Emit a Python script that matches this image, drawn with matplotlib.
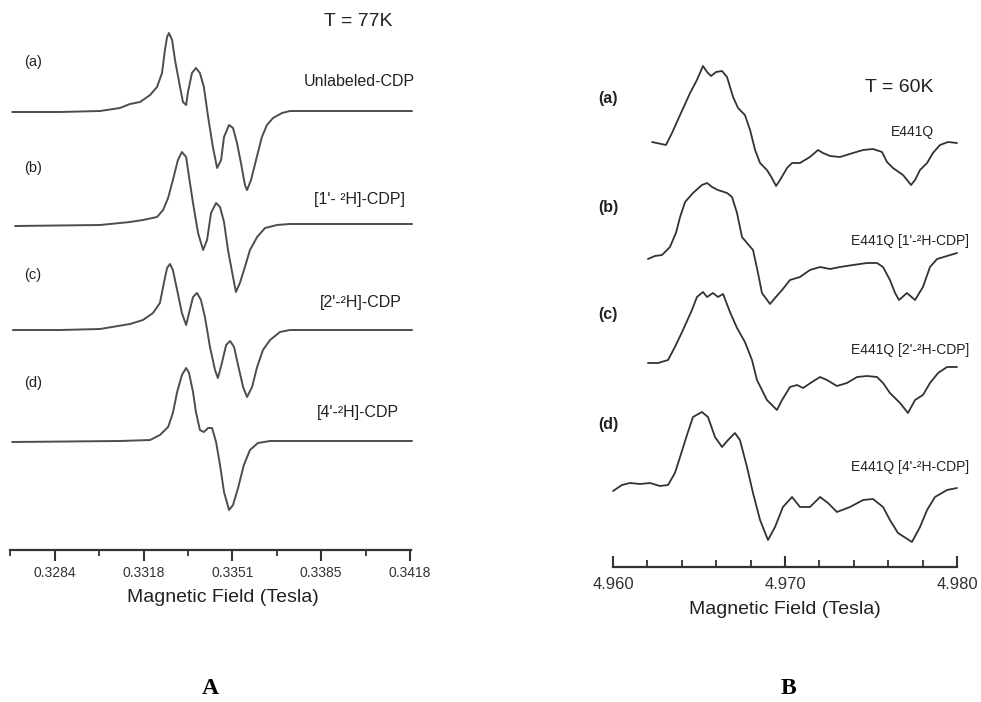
import matplotlib
matplotlib.use("Agg")
import matplotlib.pyplot as plt
import numpy as np

plt.rcParams['font.family'] = ['Liberation Sans', 'DejaVu Sans']

# ---------------- Panel A data (T = 77K) ----------------
a_field = [0.32678, 0.32859, 0.33010, 0.33085, 0.33123, 0.33161, 0.33199, 0.33225, 0.33244, 0.33255,
           0.33263, 0.33270, 0.33282, 0.33293, 0.33312, 0.33323, 0.33335, 0.33342, 0.33357, 0.33372,
           0.33387, 0.33402, 0.33418, 0.33436, 0.33452, 0.33467, 0.33478, 0.33497, 0.33512, 0.33527,
           0.33542, 0.33557, 0.33565, 0.33580, 0.33599, 0.33621, 0.33640, 0.33663, 0.33697, 0.33727,
           0.33840, 0.34188]
a_signal = [0, 0, 1, 4, 8, 10, 17, 25, 39, 62, 75, 79, 72, 52, 25, 10, 7, 20, 39, 44,
            39, 25, -5, -35, -56, -48, -25, -13, -16, -31, -51, -73, -78, -68, -48, -25, -13, -6, -1, 1,
            1, 1]

b_field = [0.32689, 0.33010, 0.33123, 0.33172, 0.33225, 0.33248, 0.33267, 0.33285, 0.33304, 0.33319,
           0.33335, 0.33346, 0.33361, 0.33380, 0.33399, 0.33414, 0.33429, 0.33448, 0.33463, 0.33478,
           0.33493, 0.33512, 0.33523, 0.33538, 0.33557, 0.33576, 0.33603, 0.33633, 0.33678, 0.33727,
           0.34188]
b_signal = [-1, 0, 3, 5, 8, 15, 27, 45, 65, 73, 68, 48, 22, -8, -25, -15, 12, 22, 18, 3,
            -25, -52, -67, -58, -42, -25, -12, -3, 0, 1, 1]

c_field = [0.32681, 0.32859, 0.33010, 0.33123, 0.33172, 0.33210, 0.33236, 0.33251, 0.33263, 0.33274,
           0.33285, 0.33301, 0.33319, 0.33335, 0.33346, 0.33361, 0.33376, 0.33391, 0.33406, 0.33425,
           0.33444, 0.33455, 0.33470, 0.33486, 0.33501, 0.33516, 0.33531, 0.33550, 0.33565, 0.33584,
           0.33603, 0.33625, 0.33652, 0.33689, 0.33727, 0.34188]
c_signal = [0, 0, 1, 6, 10, 17, 27, 47, 62, 66, 60, 40, 17, 5, 17, 33, 37, 30, 13, -17,
            -40, -48, -33, -15, -11, -17, -35, -57, -67, -57, -37, -20, -10, -2, 0, 0]

d_field = [0.32678, 0.33085, 0.33199, 0.33236, 0.33267, 0.33285, 0.33301, 0.33319, 0.33335, 0.33346,
           0.33361, 0.33372, 0.33387, 0.33402, 0.33418, 0.33433, 0.33448, 0.33463, 0.33478, 0.33497,
           0.33512, 0.33531, 0.33553, 0.33576, 0.33606, 0.33652, 0.34188]
d_signal = [0, 1, 2, 7, 15, 29, 50, 67, 74, 69, 50, 30, 12, 10, 14, 14, 0, -23, -50, -68,
            -63, -46, -23, -8, -1, 1, 1]

A_tick_values = [0.3284, 0.33175, 0.3351, 0.33845, 0.3418]
A_tick_labels = ["0.3284", "0.3318", "0.3351", "0.3385", "0.3418"]
A_minor_ticks = [0.32670, 0.330075, 0.333425, 0.336775, 0.340125]
A_names = ["Unlabeled-CDP", "[1'- \u00b2H]-CDP]", "[2'-\u00b2H]-CDP", "[4'-\u00b2H]-CDP"]

# ---------------- Panel B data (T = 60K) ----------------
Ba_field = [4.96227, 4.96308, 4.96343, 4.96390, 4.96448, 4.96488, 4.96523, 4.96547, 4.96570, 4.96599,
            4.96634, 4.96663, 4.96698, 4.96727, 4.96767, 4.96797, 4.96826, 4.96855, 4.96895, 4.96924,
            4.96948, 4.96971, 4.97012, 4.97041, 4.97087, 4.97145, 4.97192, 4.97221, 4.97262, 4.97320,
            4.97395, 4.97454, 4.97512, 4.97564, 4.97593, 4.97628, 4.97686, 4.97733, 4.97756, 4.97785,
            4.97826, 4.97860, 4.97901, 4.97948, 4.98000]
Ba_signal = [0, -3, 9, 27, 49, 62, 76, 70, 66, 70, 71, 65, 45, 34, 27, 12, -8, -21, -28, -36,
             -44, -38, -26, -21, -21, -15, -8, -11, -14, -15, -11, -8, -7, -10, -20, -26, -33, -43, -38, -28,
             -21, -11, -3, 0, -1]

Bb_field = [4.96203, 4.96244, 4.96285, 4.96331, 4.96366, 4.96390, 4.96419, 4.96465, 4.96517, 4.96547,
            4.96576, 4.96610, 4.96663, 4.96692, 4.96721, 4.96750, 4.96779, 4.96814, 4.96843, 4.96866,
            4.96913, 4.96942, 4.96983, 4.97029, 4.97087, 4.97145, 4.97204, 4.97262, 4.97320, 4.97395,
            4.97477, 4.97535, 4.97570, 4.97610, 4.97640, 4.97663, 4.97709, 4.97756, 4.97802, 4.97843,
            4.97884, 4.97942, 4.98000]
Bb_signal = [0, 3, 4, 12, 26, 42, 57, 66, 74, 76, 72, 69, 66, 62, 46, 22, 16, 9, -14, -34,
             -45, -39, -31, -21, -18, -11, -8, -10, -8, -6, -4, -4, -8, -21, -34, -41, -34, -41, -28, -8,
             0, 3, 6]

Bc_field = [4.96203, 4.96262, 4.96320, 4.96360, 4.96407, 4.96459, 4.96488, 4.96523, 4.96547, 4.96581,
            4.96610, 4.96640, 4.96680, 4.96721, 4.96767, 4.96808, 4.96837, 4.96895, 4.96953, 4.96983,
            4.97029, 4.97070, 4.97105, 4.97157, 4.97204, 4.97244, 4.97302, 4.97360, 4.97419, 4.97477,
            4.97535, 4.97570, 4.97610, 4.97669, 4.97715, 4.97756, 4.97802, 4.97843, 4.97890, 4.97942,
            4.98000]
Bc_signal = [0, 0, 3, 16, 33, 53, 66, 71, 66, 70, 66, 69, 51, 35, 21, 3, -17, -37, -47, -37,
             -24, -22, -25, -19, -14, -17, -23, -20, -14, -13, -14, -20, -30, -40, -50, -37, -32, -20, -10, -4,
             -4]

Bd_field = [4.96000, 4.96052, 4.96099, 4.96157, 4.96215, 4.96273, 4.96320, 4.96360, 4.96390, 4.96430,
            4.96465, 4.96517, 4.96552, 4.96593, 4.96634, 4.96669, 4.96709, 4.96738, 4.96779, 4.96814,
            4.96855, 4.96901, 4.96942, 4.96988, 4.97041, 4.97087, 4.97145, 4.97204, 4.97250, 4.97302,
            4.97378, 4.97454, 4.97512, 4.97570, 4.97610, 4.97657, 4.97738, 4.97785, 4.97826, 4.97872,
            4.97942, 4.98000]
Bd_signal = [-7, -1, 1, 0, 1, -2, -1, 11, 27, 49, 67, 72, 67, 47, 37, 44, 51, 44, 17, -9,
             -36, -56, -43, -23, -13, -23, -23, -13, -19, -28, -23, -16, -15, -23, -36, -49, -58, -43, -26, -13,
             -6, -4]

B_tick_values = [4.960, 4.970, 4.980]
B_tick_labels = ["4.960", "4.970", "4.980"]
B_minor_ticks = [4.962, 4.964, 4.966, 4.968, 4.972, 4.974, 4.976, 4.978]
B_names = ["E441Q", "E441Q [1'-\u00b2H-CDP]", "E441Q [2'-\u00b2H-CDP]", "E441Q [4'-\u00b2H-CDP]"]
letters = ["(a)", "(b)", "(c)", "(d)"]

# ---------------- layout ----------------
W, H = 981, 702
fig = plt.figure(figsize=(W / 100, H / 100), dpi=100)


def fx(px):
    return px / W


def fy(py):
    return 1 - py / H


axA = fig.add_axes([fx(10), fy(550), (411 - 10) / W, 550 / H])
axA.set_xlim(0.32670, 0.34184)
axA.set_ylim(0, 550)
A_offsets = [438, 325, 220, 108]
A_color = '#4d4d4d'
for fld, sig, off in zip([a_field, b_field, c_field, d_field],
                         [a_signal, b_signal, c_signal, d_signal], A_offsets):
    axA.plot(fld, np.array(sig) + off, color=A_color, lw=1.4, clip_on=False,
             solid_joinstyle='round', solid_capstyle='round')

axB = fig.add_axes([fx(613), fy(567), (957 - 613) / W, 567 / H])
axB.set_xlim(4.960, 4.980)
axB.set_ylim(0, 567)
B_offsets = [425, 308, 204, 83]
B_color = '#333333'
for fld, sig, off in zip([Ba_field, Bb_field, Bc_field, Bd_field],
                         [Ba_signal, Bb_signal, Bc_signal, Bd_signal], B_offsets):
    axB.plot(fld, np.array(sig) + off, color=B_color, lw=1.3, clip_on=False,
             solid_joinstyle='round', solid_capstyle='round')

for ax in (axA, axB):
    for s in ('top', 'left', 'right'):
        ax.spines[s].set_visible(False)
    ax.spines['bottom'].set_linewidth(1.6)
    ax.spines['bottom'].set_color('#333333')
    ax.set_yticks([])
    ax.patch.set_alpha(0)

axA.set_xticks(A_tick_values)
axA.set_xticklabels(A_tick_labels)
axA.set_xticks(A_minor_ticks, minor=True)
axA.tick_params(axis='x', which='major', direction='out', length=8, width=1.5,
                color='#333333', labelsize=10, pad=3.5, labelcolor='#333333')
axA.tick_params(axis='x', which='minor', direction='out', length=4, width=1.3, color='#333333')

axB.set_xticks(B_tick_values)
axB.set_xticklabels(B_tick_labels)
axB.set_xticks(B_minor_ticks, minor=True)
axB.tick_params(axis='x', which='major', direction='in', length=8, width=1.5,
                color='#333333', labelsize=12, pad=7, labelcolor='#333333')
axB.tick_params(axis='x', which='minor', direction='in', length=5, width=1.3, color='#333333')

# ---------------- texts ----------------
tc = '#222222'
fig.text(fx(358), fy(22), "T = 77K", ha='center', va='center', fontsize=14, color=tc)
fig.text(fx(899), fy(88), "T = 60K", ha='center', va='center', fontsize=14, color=tc)

A_letter_y = [62, 168, 275, 383]
A_name_pos = [(359, 82), (360, 200), (361, 302), (358, 413)]
for lt, ly, nm, (nx, ny) in zip(letters, A_letter_y, A_names, A_name_pos):
    fig.text(fx(33), fy(ly), lt, ha='center', va='center', fontsize=10.5, color=tc)
    fig.text(fx(nx), fy(ny), nm, ha='center', va='center', fontsize=11.5, color=tc)

B_letter_y = [99, 207, 315, 424]
B_name_pos = [(912, 132), (910, 241), (910, 350), (910, 467)]
for lt, ly, nm, (nx, ny) in zip(letters, B_letter_y, B_names, B_name_pos):
    fig.text(fx(608), fy(ly), lt, ha='center', va='center', fontsize=11.5, color=tc,
             fontweight='bold')
    fig.text(fx(nx), fy(ny), nm, ha='center', va='center', fontsize=10, color=tc)

fig.text(fx(223), fy(598), "Magnetic Field (Tesla)", ha='center', va='center', fontsize=14, color=tc)
fig.text(fx(785), fy(610), "Magnetic Field (Tesla)", ha='center', va='center', fontsize=14, color=tc)

fig.text(fx(210), fy(688), "A", ha='center', va='center', fontsize=17, fontweight='bold',
         family='Liberation Serif', color='black')
fig.text(fx(788), fy(688), "B", ha='center', va='center', fontsize=17, fontweight='bold',
         family='Liberation Serif', color='black')

fig.savefig("out.png", dpi=100)
